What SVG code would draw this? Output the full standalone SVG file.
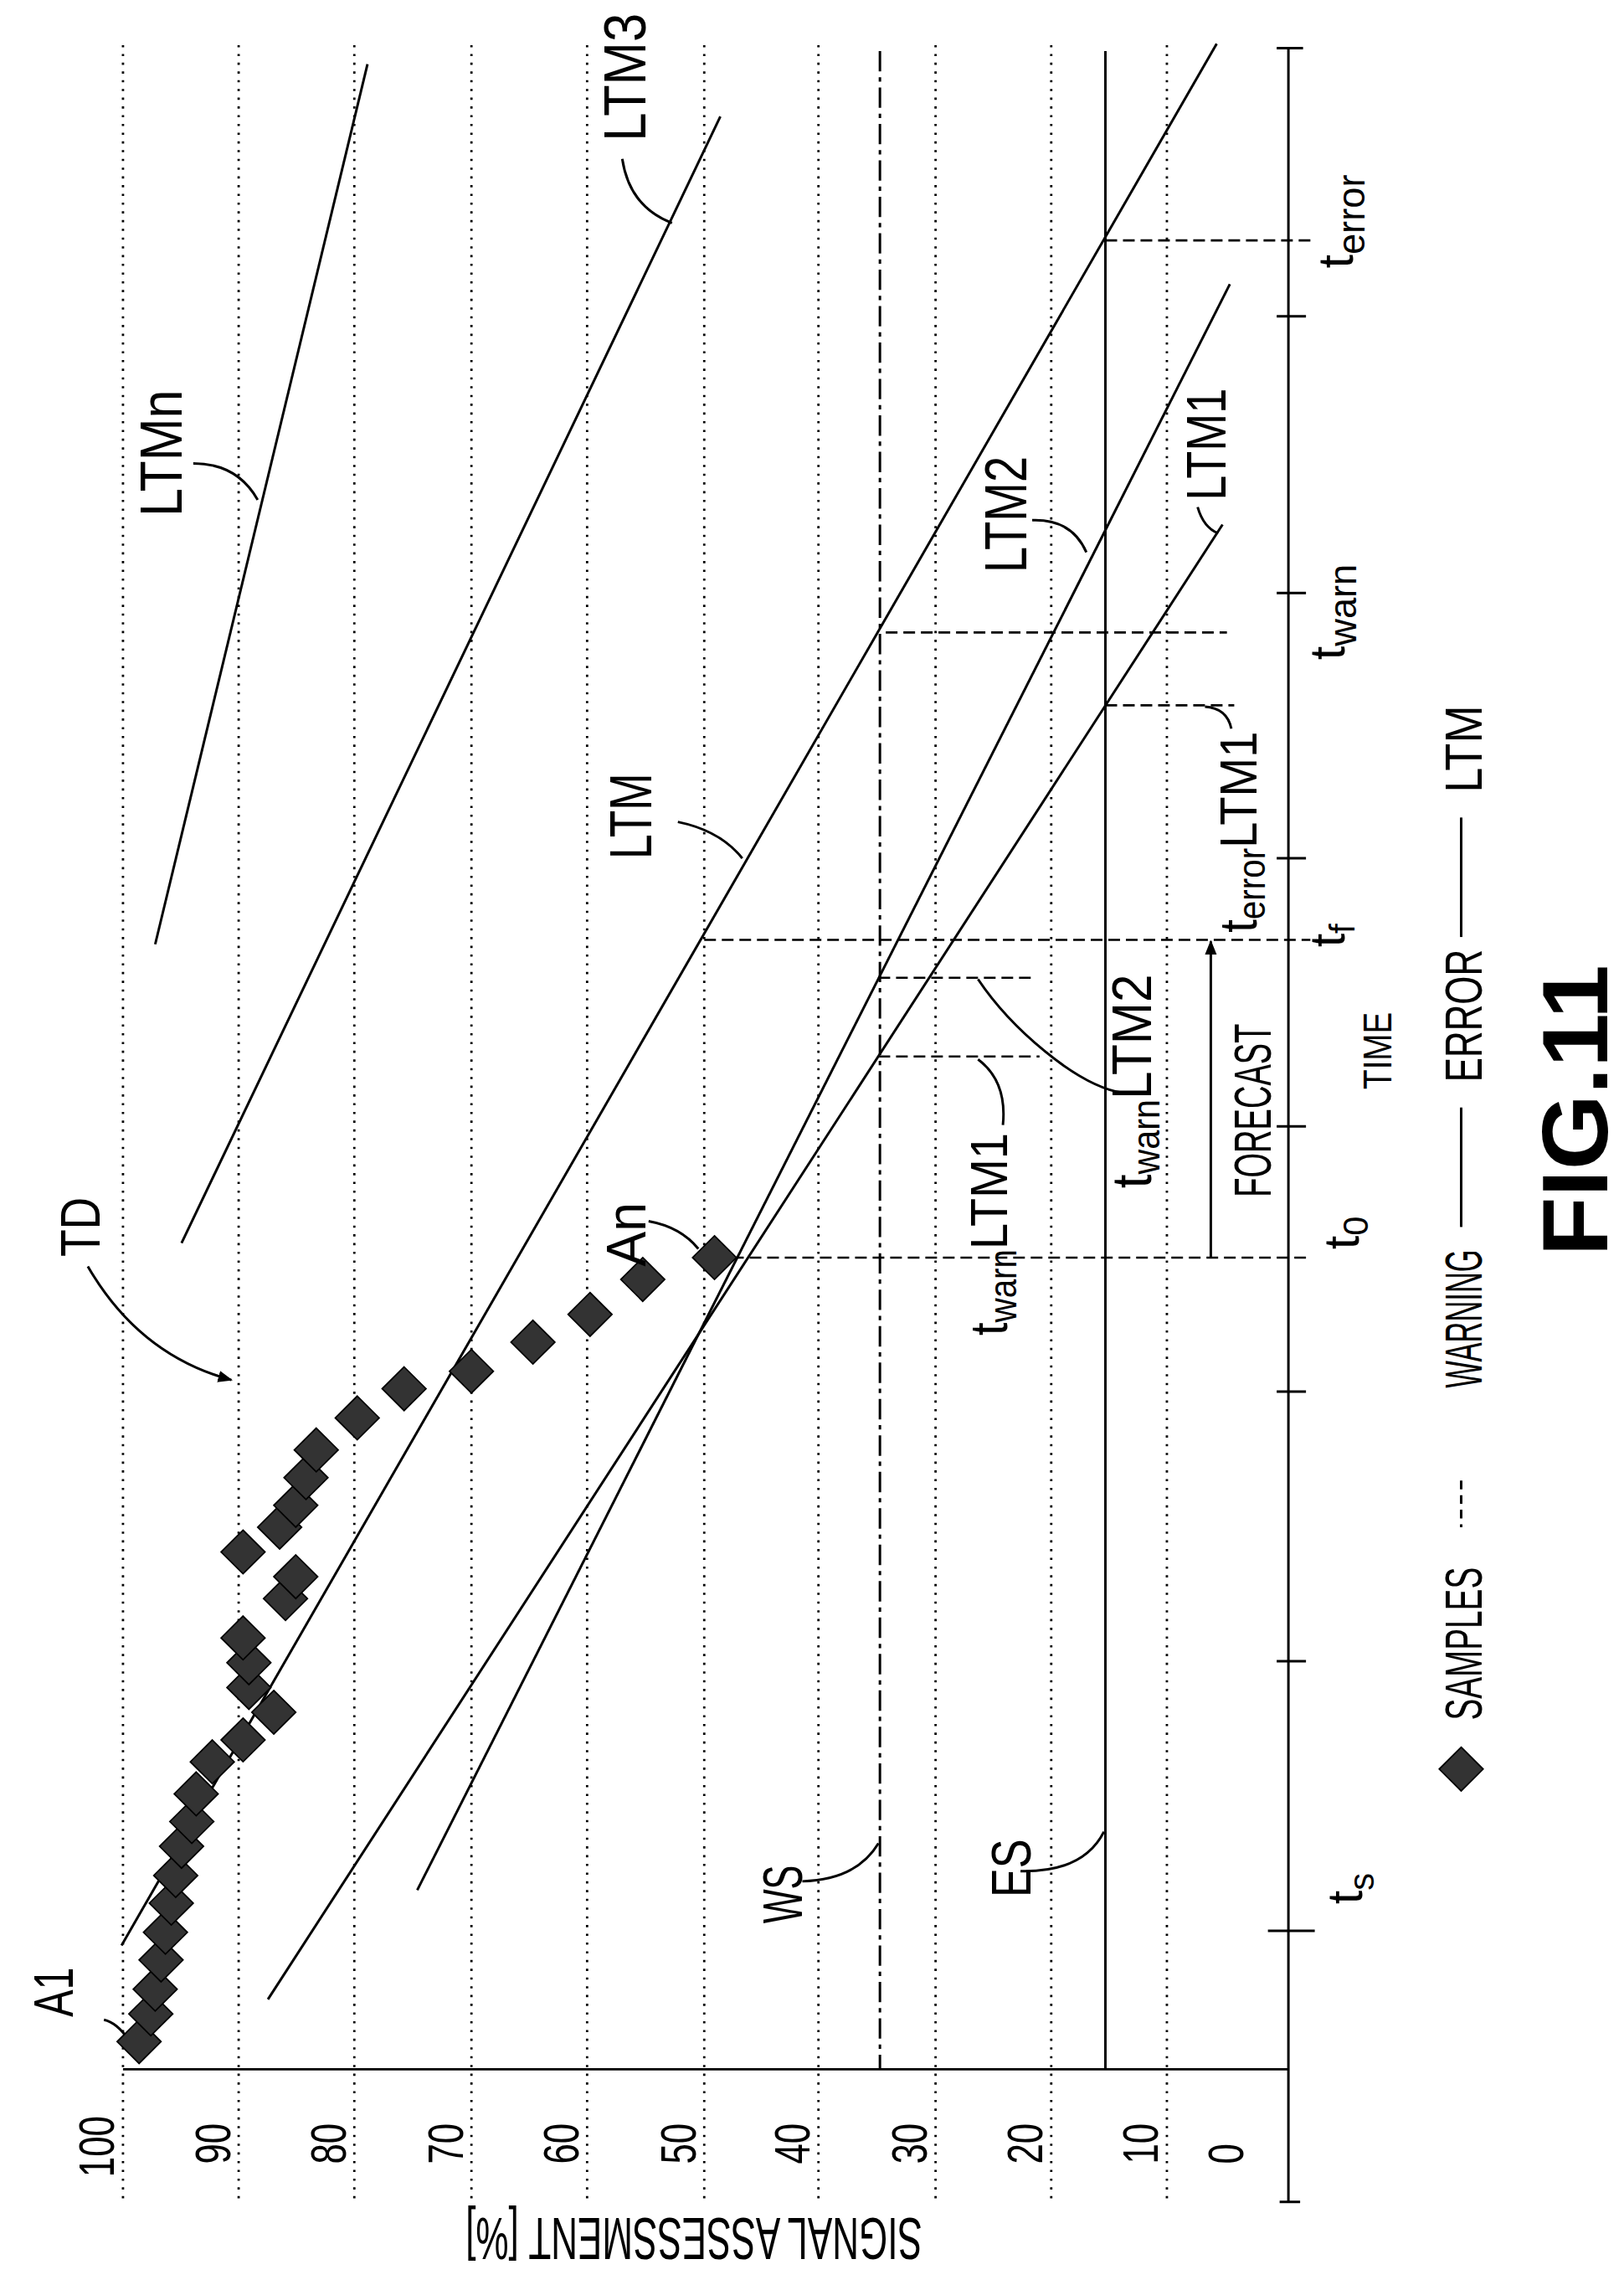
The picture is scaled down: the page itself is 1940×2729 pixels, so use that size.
<svg xmlns="http://www.w3.org/2000/svg" xmlns:xlink="http://www.w3.org/1999/xlink" width="1940" height="2729" viewBox="0 0 1940 2729">
<style>
.g{stroke:#000;stroke-width:1.6;stroke-dasharray:1.5 4.5;fill:none}
.l{stroke:#000;stroke-width:1.7;fill:none}
.d{stroke:#000;stroke-width:1.5;stroke-dasharray:8 4;fill:none}
.t{font-family:"Liberation Sans Narrow","Liberation Sans",Arial,sans-serif;fill:#000;text-anchor:middle}
</style>
<defs>
<path id="dm" d="M0,-15 L15,0 L0,15 L-15,0 Z" fill="#333" stroke="#000" stroke-width="1"/>
<marker id="ah" markerWidth="10" markerHeight="10" refX="9" refY="5" orient="auto" markerUnits="userSpaceOnUse"><path d="M0,1 L10,5 L0,9 Z" fill="#000"/></marker>
</defs>
<rect width="1940" height="2729" fill="#fff"/>
<g transform="scale(1.749,1.7404)">
<g id="grid">
<line class="g" x1="84" y1="31" x2="84" y2="1511"/>
<line class="g" x1="163" y1="31" x2="163" y2="1511"/>
<line class="g" x1="242" y1="31" x2="242" y2="1511"/>
<line class="g" x1="322" y1="31" x2="322" y2="1511"/>
<line class="g" x1="401" y1="31" x2="401" y2="1511"/>
<line class="g" x1="481" y1="31" x2="481" y2="1511"/>
<line class="g" x1="559" y1="31" x2="559" y2="1511"/>
<line class="g" x1="639" y1="31" x2="639" y2="1511"/>
<line class="g" x1="718" y1="31" x2="718" y2="1511"/>
<line class="g" x1="797" y1="31" x2="797" y2="1511"/>
</g>
<g id="axes">
<line class="l" x1="84" y1="1420" x2="880" y2="1420" stroke-width="2"/>
<line class="l" x1="880" y1="33" x2="880" y2="1511" stroke-width="2"/>
<path class="l" d="M872,33H890M872,217H892M872,407H892M872,589H892M872,773H892M872,955H892M872,1140H892M866,1325H898M874,1511H888"/>
</g>
<g id="thresholds">
<line class="l" x1="601" y1="35" x2="601" y2="1420" stroke-dasharray="14 4 3 4"/>
<line class="l" x1="755" y1="35" x2="755" y2="1420" stroke-width="4.5"/>
</g>
<g id="connectors">
<line class="l" x1="106" y1="648" x2="251" y2="44"/>
<line class="l" x1="124" y1="853" x2="492" y2="80"/>
<line class="l" x1="83" y1="1335" x2="831" y2="30"/>
<line class="l" x1="285" y1="1297" x2="840" y2="195"/>
<line class="l" x1="183" y1="1372" x2="835" y2="360"/>
<line class="d" x1="755" y1="165" x2="897" y2="165"/>
<line class="d" x1="605" y1="434" x2="838" y2="434"/>
<line class="d" x1="755" y1="484" x2="843" y2="484"/>
<line class="d" x1="481" y1="645" x2="895" y2="645"/>
<line class="d" x1="600" y1="671" x2="705" y2="671"/>
<line class="d" x1="600" y1="725" x2="710" y2="725"/>
<line class="d" x1="488" y1="863" x2="895" y2="863"/>
<line class="l" x1="827" y1="863" x2="827" y2="646" marker-end="url(#ah)"/>
<path class="l" stroke-width="1.3" d="M71,1386 Q80,1388 88,1400"/>
<path class="l" stroke-width="1.3" d="M60,869 Q95,930 158,947" marker-end="url(#ah)"/>
<path class="l" stroke-width="1.3" d="M443,838 Q465,842 477,857"/>
<path class="l" stroke-width="1.3" d="M132,318 Q162,318 176,343"/>
<path class="l" stroke-width="1.3" d="M425,109 Q430,142 459,153"/>
<path class="l" stroke-width="1.3" d="M463,564 Q492,570 507,589"/>
<path class="l" stroke-width="1.3" d="M705,357 Q732,356 742,379"/>
<path class="l" stroke-width="1.3" d="M818,348 Q822,362 832,366"/>
<path class="l" stroke-width="1.3" d="M841,500 Q838,486 823,485"/>
<path class="l" stroke-width="1.3" d="M685,772 Q688,742 668,727"/>
<path class="l" stroke-width="1.3" d="M767,750 C735,745 690,705 668,672"/>
<path class="l" stroke-width="1.3" d="M548,1291 Q585,1290 600,1265"/>
<path class="l" stroke-width="1.3" d="M697,1284 Q740,1285 754,1257"/>
</g>
<g id="samples">
<use xlink:href="#dm" x="95" y="1401"/><use xlink:href="#dm" x="103" y="1382"/><use xlink:href="#dm" x="106" y="1365"/><use xlink:href="#dm" x="110" y="1345"/><use xlink:href="#dm" x="113" y="1326"/><use xlink:href="#dm" x="117" y="1306"/><use xlink:href="#dm" x="120" y="1287"/><use xlink:href="#dm" x="124" y="1267"/><use xlink:href="#dm" x="131" y="1250"/><use xlink:href="#dm" x="134" y="1231"/><use xlink:href="#dm" x="145" y="1209"/><use xlink:href="#dm" x="166" y="1194"/><use xlink:href="#dm" x="187" y="1175"/><use xlink:href="#dm" x="170" y="1158"/><use xlink:href="#dm" x="170" y="1141"/><use xlink:href="#dm" x="166" y="1124"/><use xlink:href="#dm" x="195" y="1097"/><use xlink:href="#dm" x="202" y="1082"/><use xlink:href="#dm" x="166" y="1065"/><use xlink:href="#dm" x="191" y="1048"/><use xlink:href="#dm" x="202" y="1033"/><use xlink:href="#dm" x="209" y="1014"/><use xlink:href="#dm" x="216" y="995"/><use xlink:href="#dm" x="244" y="973"/><use xlink:href="#dm" x="276" y="953"/><use xlink:href="#dm" x="322" y="941"/><use xlink:href="#dm" x="364" y="921"/><use xlink:href="#dm" x="403" y="902"/><use xlink:href="#dm" x="439" y="878"/><use xlink:href="#dm" x="488" y="863"/>
</g>
<g id="labels" class="t">
<text transform="translate(78,1473) rotate(-90)" font-size="34" textLength="42" lengthAdjust="spacingAndGlyphs">100</text>
<text transform="translate(157,1471) rotate(-90)" font-size="34" textLength="28" lengthAdjust="spacingAndGlyphs">90</text>
<text transform="translate(236,1471) rotate(-90)" font-size="34" textLength="28" lengthAdjust="spacingAndGlyphs">80</text>
<text transform="translate(316,1471) rotate(-90)" font-size="34" textLength="28" lengthAdjust="spacingAndGlyphs">70</text>
<text transform="translate(395,1471) rotate(-90)" font-size="34" textLength="28" lengthAdjust="spacingAndGlyphs">60</text>
<text transform="translate(475,1471) rotate(-90)" font-size="34" textLength="28" lengthAdjust="spacingAndGlyphs">50</text>
<text transform="translate(553,1471) rotate(-90)" font-size="34" textLength="28" lengthAdjust="spacingAndGlyphs">40</text>
<text transform="translate(633,1471) rotate(-90)" font-size="34" textLength="28" lengthAdjust="spacingAndGlyphs">30</text>
<text transform="translate(712,1471) rotate(-90)" font-size="34" textLength="28" lengthAdjust="spacingAndGlyphs">20</text>
<text transform="translate(791,1471) rotate(-90)" font-size="34" textLength="28" lengthAdjust="spacingAndGlyphs">10</text>
<text transform="translate(849,1478) rotate(-90)" font-size="34" textLength="14" lengthAdjust="spacingAndGlyphs">0</text>
<text transform="translate(474,1522) rotate(180)" font-size="40" textLength="312" lengthAdjust="spacingAndGlyphs">SIGNAL ASSESSMENT [%]</text>
<text transform="translate(50,1367) rotate(-90)" font-size="38" textLength="34" lengthAdjust="spacingAndGlyphs">A1</text>
<text transform="translate(68,842) rotate(-90)" font-size="38" textLength="41" lengthAdjust="spacingAndGlyphs">TD</text>
<text transform="translate(441,847) rotate(-90)" font-size="38" textLength="44" lengthAdjust="spacingAndGlyphs">An</text>
<text transform="translate(124,311) rotate(-90)" font-size="40" textLength="87" lengthAdjust="spacingAndGlyphs">LTMn</text>
<text transform="translate(441,53) rotate(-90)" font-size="40" textLength="88" lengthAdjust="spacingAndGlyphs">LTM3</text>
<text transform="translate(445,560) rotate(-90)" font-size="40" textLength="59" lengthAdjust="spacingAndGlyphs">LTM</text>
<text transform="translate(701,353) rotate(-90)" font-size="40" textLength="80" lengthAdjust="spacingAndGlyphs">LTM2</text>
<text transform="translate(837,305) rotate(-90)" font-size="38" textLength="77" lengthAdjust="spacingAndGlyphs">LTM1</text>
<text transform="translate(548,1300) rotate(-90)" font-size="38" textLength="40" lengthAdjust="spacingAndGlyphs">WS</text>
<text transform="translate(704,1282) rotate(-90)" font-size="38" textLength="40" lengthAdjust="spacingAndGlyphs">ES</text>
<text transform="translate(930,1296) rotate(-90)" font-size="34">t<tspan font-size="24" dy="8">s</tspan></text>
<text transform="translate(928,846) rotate(-90)" font-size="34">t<tspan font-size="24" dy="6">0</tspan></text>
<text transform="translate(918,642) rotate(-90)" font-size="34">t<tspan font-size="24" dy="7">f</tspan></text>
<text transform="translate(918,420) rotate(-90)" font-size="34">t<tspan font-size="26" dy="8">warn</tspan></text>
<text transform="translate(924,152) rotate(-90)" font-size="34">t<tspan font-size="26" dy="8">error</tspan></text>
<text transform="translate(950,721) rotate(-90)" font-size="28" textLength="53" lengthAdjust="spacingAndGlyphs">TIME</text>
<text transform="translate(868,762) rotate(-90)" font-size="36" textLength="119" lengthAdjust="spacingAndGlyphs">FORECAST</text>
<text transform="translate(688,847) rotate(-90)" font-size="36" textLength="139" lengthAdjust="spacingAndGlyphs">t<tspan font-size="26" dy="6">warn</tspan><tspan dy="-6">LTM1</tspan></text>
<text transform="translate(786,742) rotate(-90)" font-size="38" textLength="147" lengthAdjust="spacingAndGlyphs">t<tspan font-size="26" dy="6">warn</tspan><tspan dy="-6">LTM2</tspan></text>
<text transform="translate(858,571) rotate(-90)" font-size="36" textLength="138" lengthAdjust="spacingAndGlyphs">t<tspan font-size="26" dy="6">error</tspan><tspan dy="-6">LTM1</tspan></text>
</g>
<g id="legend">
<use xlink:href="#dm" x="998" y="1214"/>
<text class="t" transform="translate(1012,1128) rotate(-90)" font-size="36" textLength="105" lengthAdjust="spacingAndGlyphs">SAMPLES</text>
<line class="l" x1="998" y1="1016" x2="998" y2="1048" stroke-width="2" stroke-dasharray="6 4"/>
<text class="t" transform="translate(1012,905) rotate(-90)" font-size="36" textLength="95" lengthAdjust="spacingAndGlyphs">WARNING</text>
<line class="l" x1="998" y1="760" x2="998" y2="842" stroke-width="4"/>
<text class="t" transform="translate(1012,697) rotate(-90)" font-size="36" textLength="91" lengthAdjust="spacingAndGlyphs">ERROR</text>
<line class="l" x1="998" y1="561" x2="998" y2="643" stroke-width="2"/>
<text class="t" transform="translate(1012,514) rotate(-90)" font-size="36" textLength="60" lengthAdjust="spacingAndGlyphs">LTM</text>
<text class="t" transform="translate(1098,762) rotate(-90)" font-size="64" font-weight="bold" textLength="200" lengthAdjust="spacingAndGlyphs">FIG.11</text>
</g>
</g>
</svg>
